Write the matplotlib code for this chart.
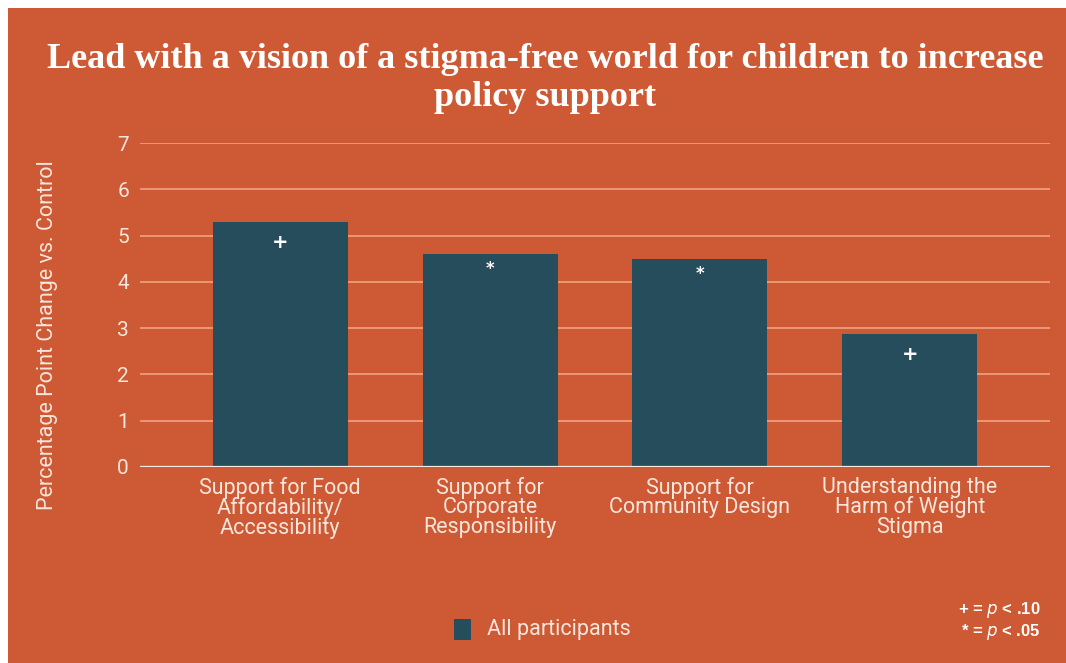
import matplotlib
matplotlib.use("Agg")
from matplotlib import pyplot as plt
from matplotlib.patches import Rectangle

categories = ["Support for Food\nAffordability/\nAccessibility",
              "Support for\nCorporate\nResponsibility",
              "Support for\nCommunity Design",
              "Understanding the\nHarm of Weight\nStigma"]
values = [5.3, 4.6, 4.5, 2.88]
sig_marks = ["+", "*", "*", "+"]
yticks = [0, 1, 2, 3, 4, 5, 6, 7]

bg = "#cd5a34"
bar_color = "#264d5c"
light = "#f7e6dc"

fig = plt.figure(figsize=(10.66, 6.63), dpi=100)
fig.patch.set_facecolor("white")
# orange panel, leaves a thin white strip at the top and left
fig.add_artist(Rectangle((8 / 1066, 0), 1, 1 - 8 / 663, transform=fig.transFigure,
                         facecolor=bg, edgecolor="none", zorder=0))

ax = fig.add_axes([140 / 1066, 1 - 467 / 663, 910 / 1066, 324 / 663])
ax.patch.set_alpha(0)

x = range(len(categories))
ax.bar(x, values, width=0.643, color=bar_color, zorder=3)
for xi, v, m in zip(x, values, sig_marks):
    ax.annotate(m, (xi, v), xytext=(0, -15 if m == "+" else -11),
                textcoords="offset points", ha="center", va="center",
                color="white", fontsize=14 if m == "+" else 12,
                fontweight="bold", family="DejaVu Sans", zorder=4)

ax.set_xlim(-0.667, 3.667)
ax.set_ylim(0, 7)
ax.set_yticks(yticks)
ax.grid(axis="y", color="#ee9c7c", linewidth=1.3, zorder=1)
ax.axhline(0, color="#f7ece6", linewidth=1.6, zorder=4)
for s in ax.spines.values():
    s.set_visible(False)
ax.tick_params(length=0, colors=light, labelsize=15, pad=8)
ax.tick_params(axis="x", pad=7)
ax.set_xticks(list(x))
ax.set_xticklabels(categories, fontsize=15.5, linespacing=0.92, family="Roboto", color=light)
for lbl in ax.get_yticklabels():
    lbl.set_family("Roboto")

fig.text(48 / 1066, 1 - 335 / 663, "Percentage Point Change vs. Control",
         rotation=90, ha="center", va="center", fontsize=15.5, family="Roboto",
         color=light)

fig.text(545 / 1066, 1 - 79 / 663,
         "Lead with a vision of a stigma-free world for children to increase\npolicy support",
         ha="center", va="center", fontsize=26, fontweight="bold",
         family="Liberation Serif", color="white", linespacing=1.2)

# legend
fig.add_artist(Rectangle((454 / 1066, 1 - 640 / 663), 17 / 1066, 21 / 663,
                         transform=fig.transFigure, facecolor=bar_color,
                         edgecolor="none"))
fig.text(487 / 1066, 1 - 629 / 663, "All participants", ha="left", va="center",
         fontsize=15.5, family="Roboto", color=light)

# significance key
fig.text(1041 / 1066, 1 - 610 / 663, r"+ = $\mathbf{\mathit{p}}$ < .10", ha="right",
         va="center", fontsize=12, fontweight="bold", family="Liberation Sans",
         color="white")
fig.text(1041 / 1066, 1 - 632 / 663, r"* = $\mathbf{\mathit{p}}$ < .05", ha="right",
         va="center", fontsize=12, fontweight="bold", family="Liberation Sans",
         color="white")

fig.savefig("out.png", dpi=100, facecolor=fig.get_facecolor())
